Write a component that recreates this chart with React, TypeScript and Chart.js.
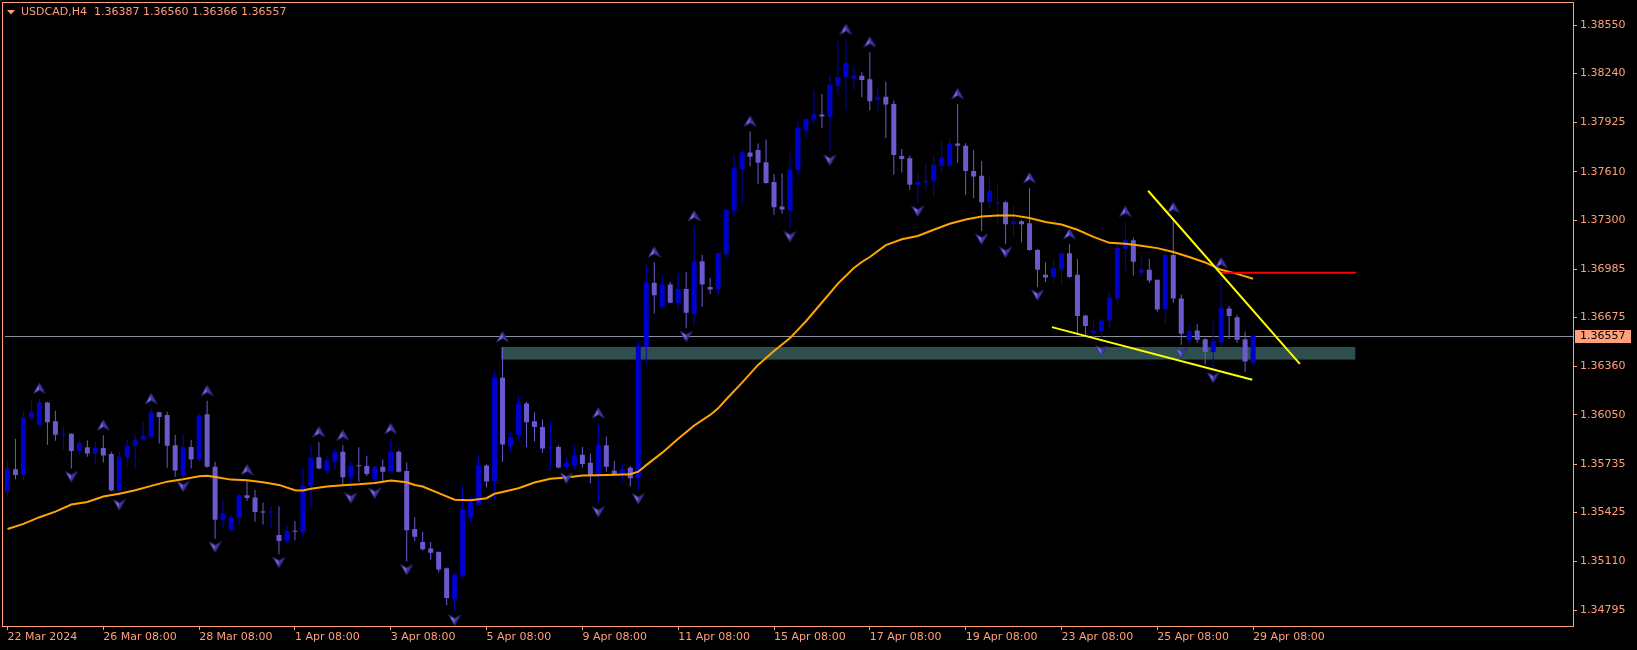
import React, { useEffect, useRef } from "react";
import { Chart, registerables } from "chart.js";

Chart.register(...registerables);

// ---------- data ----------
const SYMBOL = "USDCAD,H4";

const OPEN = [
  1.35559, 1.35701, 1.35665, 1.36029, 1.35986, 1.3613, 1.3601, 1.35923, 1.35929, 1.35819,
  1.35842, 1.35802, 1.35838, 1.358, 1.35565, 1.35777, 1.35853, 1.35891, 1.35908, 1.36067,
  1.3605, 1.35855, 1.35665, 1.35845, 1.35764, 1.36054, 1.35718, 1.35375, 1.35311, 1.3539,
  1.35534, 1.35521, 1.3543, 1.35424, 1.3528, 1.35242, 1.35305, 1.35299, 1.35597, 1.35779,
  1.35692, 1.35749, 1.35813, 1.3565, 1.35724, 1.35722, 1.35637, 1.35718, 1.35686, 1.35813,
  1.3569, 1.35318, 1.35235, 1.35193, 1.35172, 1.35066, 1.34867, 1.35015, 1.3539, 1.35474,
  1.35726, 1.35623, 1.36289, 1.35851, 1.35923, 1.36124, 1.3601, 1.35972, 1.35834, 1.35845,
  1.35718, 1.35728, 1.35794, 1.35743, 1.35661, 1.35855, 1.35692, 1.35673, 1.35711, 1.35644,
  1.36486, 1.36898, 1.36744, 1.36886, 1.36769, 1.36858, 1.36697, 1.37036, 1.36871, 1.3686,
  1.37082, 1.37362, 1.37628, 1.37734, 1.37749, 1.37671, 1.37544, 1.37387, 1.37362, 1.37622,
  1.37876, 1.37945, 1.37977, 1.37964, 1.38161, 1.38218, 1.38208, 1.38225, 1.38204, 1.3807,
  1.38091, 1.38045, 1.37711, 1.37696, 1.37527, 1.37541, 1.37547, 1.37649, 1.37649, 1.37791,
  1.37776, 1.37615, 1.37584, 1.37414, 1.37406, 1.37414, 1.37273, 1.37292, 1.37279, 1.37108,
  1.36949, 1.36934, 1.36983, 1.37087, 1.36949, 1.36687, 1.36574, 1.36589, 1.36655, 1.36797,
  1.37114, 1.37171, 1.36962, 1.36981, 1.36917, 1.36729, 1.37076, 1.36797, 1.36528, 1.36592,
  1.36536, 1.36454, 1.36515, 1.36733, 1.36676, 1.36536, 1.36387,
];
const HIGH = [
  1.35754, 1.35897, 1.36077, 1.36151, 1.36155, 1.36134, 1.36077, 1.35978, 1.35933, 1.35893,
  1.35887, 1.35881, 1.35919, 1.35813, 1.35813, 1.35893, 1.35919, 1.36008, 1.36088, 1.36071,
  1.36071, 1.35923, 1.35925, 1.35891, 1.36061, 1.36141, 1.35749, 1.3551, 1.35411, 1.35544,
  1.35633, 1.3557, 1.35489, 1.35464, 1.35464, 1.35341, 1.35369, 1.35711, 1.35859, 1.35876,
  1.35792, 1.35834, 1.35855, 1.35749, 1.35842, 1.35787, 1.3572, 1.35764, 1.35897, 1.35823,
  1.35745, 1.35394, 1.35299, 1.35235, 1.35172, 1.35072, 1.3503, 1.35597, 1.35527, 1.35792,
  1.35733, 1.36331, 1.36486, 1.35944, 1.36173, 1.36135, 1.36067, 1.3602, 1.3601, 1.35855,
  1.35775, 1.35855, 1.35845, 1.35802, 1.35997, 1.35912, 1.35754, 1.35735, 1.35722, 1.36522,
  1.37012, 1.3703, 1.36944, 1.36903, 1.36955, 1.36966, 1.37262, 1.37076, 1.3693, 1.37087,
  1.37368, 1.37715, 1.37753, 1.37869, 1.37791, 1.37817, 1.37596, 1.37601, 1.37728, 1.37933,
  1.3795, 1.38134, 1.38109, 1.38225, 1.38447, 1.38458, 1.38288, 1.3825, 1.38377, 1.38155,
  1.38187, 1.38066, 1.37755, 1.37713, 1.37601, 1.37671, 1.37717, 1.37812, 1.37823, 1.38045,
  1.37793, 1.37749, 1.37679, 1.37573, 1.37531, 1.37421, 1.37389, 1.373, 1.37506, 1.37114,
  1.3703, 1.37049, 1.37087, 1.37146, 1.37049, 1.36691, 1.36655, 1.3667, 1.36833, 1.37157,
  1.3729, 1.37188, 1.37071, 1.37051, 1.36917, 1.37131, 1.37315, 1.36822, 1.36623, 1.36632,
  1.36543, 1.36649, 1.36962, 1.36748, 1.36691, 1.36585, 1.3656,
];
const LOW = [
  1.35538, 1.35637, 1.35633, 1.36014, 1.35982, 1.35859, 1.35885, 1.35828, 1.35707, 1.35798,
  1.35781, 1.35732, 1.35745, 1.35559, 1.35527, 1.35718, 1.35707, 1.35887, 1.35904, 1.35866,
  1.35711, 1.35654, 1.35644, 1.35707, 1.35749, 1.35711, 1.35256, 1.35326, 1.35309, 1.35341,
  1.355, 1.35364, 1.35347, 1.35326, 1.35157, 1.35227, 1.35246, 1.35263, 1.35453, 1.35701,
  1.35669, 1.35701, 1.35601, 1.3557, 1.35622, 1.35658, 1.35601, 1.35622, 1.35682, 1.3568,
  1.3511, 1.35242, 1.35178, 1.35121, 1.35041, 1.34829, 1.34787, 1.35009, 1.35364, 1.35474,
  1.35584, 1.35506, 1.35749, 1.35813, 1.35887, 1.35845, 1.35881, 1.35807, 1.35701, 1.35707,
  1.35697, 1.35707, 1.35713, 1.35612, 1.35481, 1.35686, 1.35665, 1.35623, 1.35591, 1.35565,
  1.36384, 1.36701, 1.36733, 1.36765, 1.36733, 1.36606, 1.36634, 1.36744, 1.36824, 1.36818,
  1.37055, 1.37322, 1.37406, 1.37643, 1.37533, 1.37533, 1.37332, 1.37341, 1.37247, 1.37575,
  1.37827, 1.37918, 1.3789, 1.37738, 1.38112, 1.38009, 1.38136, 1.38087, 1.38003, 1.38003,
  1.37827, 1.3759, 1.37605, 1.37495, 1.3741, 1.3749, 1.37452, 1.37601, 1.37649, 1.37668,
  1.37463, 1.37442, 1.3723, 1.37374, 1.37268, 1.37146, 1.37188, 1.37157, 1.37103, 1.36871,
  1.36903, 1.36903, 1.36887, 1.3693, 1.36564, 1.36564, 1.36543, 1.36515, 1.366, 1.3676,
  1.36972, 1.36945, 1.36941, 1.36896, 1.36712, 1.36634, 1.36769, 1.365, 1.36507, 1.36511,
  1.36373, 1.36342, 1.3649, 1.36538, 1.36511, 1.36325, 1.36366,
];
const CLOSE = [
  1.35707, 1.35665, 1.36035, 1.36071, 1.3613, 1.36003, 1.35923, 1.35927, 1.35819, 1.3587,
  1.35802, 1.35838, 1.3579, 1.35565, 1.35781, 1.35851, 1.35893, 1.35914, 1.36067, 1.36037,
  1.35853, 1.35694, 1.35845, 1.35764, 1.36046, 1.35718, 1.35377, 1.35417, 1.35394, 1.35534,
  1.35517, 1.35428, 1.35424, 1.3543, 1.35242, 1.35305, 1.35301, 1.35601, 1.35775, 1.35707,
  1.35756, 1.35813, 1.3565, 1.35722, 1.3572, 1.35671, 1.35718, 1.35686, 1.35813, 1.35686,
  1.35311, 1.35269, 1.35189, 1.35166, 1.35058, 1.34876, 1.35026, 1.35447, 1.35489, 1.35726,
  1.35623, 1.36289, 1.3586, 1.35908, 1.36124, 1.36003, 1.35972, 1.35834, 1.35843, 1.35713,
  1.35743, 1.35788, 1.35735, 1.35661, 1.35855, 1.35718, 1.35671, 1.35703, 1.35644, 1.3649,
  1.36898, 1.36818, 1.36886, 1.36769, 1.36858, 1.36706, 1.37036, 1.36887, 1.36854, 1.37087,
  1.37368, 1.37634, 1.37734, 1.37706, 1.37668, 1.37537, 1.37382, 1.37368, 1.37622, 1.37893,
  1.3795, 1.37977, 1.37964, 1.38168, 1.38218, 1.38309, 1.38225, 1.38199, 1.38062, 1.38091,
  1.38041, 1.37717, 1.37692, 1.37527, 1.37544, 1.37552, 1.37654, 1.377, 1.37791, 1.37776,
  1.37615, 1.37579, 1.37414, 1.37488, 1.3741, 1.37273, 1.3729, 1.37273, 1.37108, 1.36981,
  1.36932, 1.36993, 1.37087, 1.36934, 1.36684, 1.36621, 1.36592, 1.36655, 1.36803, 1.3712,
  1.37171, 1.37033, 1.36981, 1.36913, 1.36727, 1.37076, 1.36797, 1.3657, 1.36589, 1.36532,
  1.36454, 1.36522, 1.36738, 1.36684, 1.36532, 1.36392, 1.36557,
];

// moving average readings (bar index -> value)
const MA_INDEX = [
  0, 2, 4, 6, 8, 10, 12, 14, 16, 18, 20, 22, 24, 25, 26, 28, 30, 32, 34, 36, 37, 38, 40, 42, 44,
  46, 48, 50, 51, 52, 54, 56, 58, 60, 61, 62, 64, 66, 68, 70, 72, 74, 76, 78, 79, 80, 82, 84,
  86, 88, 89, 90, 92, 94, 96, 98, 100, 102, 104, 106, 107, 108, 110, 112, 114, 116, 118, 120,
  122, 124, 126, 128, 130, 132, 134, 136, 138, 140, 142, 144, 146, 148, 150, 152, 154, 156,
];
const MA_VALUE = [
  1.35318, 1.35351, 1.35394, 1.3543, 1.35475, 1.35491, 1.35527, 1.35544, 1.35567, 1.35595,
  1.35622, 1.35637, 1.35656, 1.3566, 1.35652, 1.35635, 1.35631, 1.35618, 1.35601, 1.35567,
  1.35565, 1.35576, 1.35591, 1.35599, 1.35605, 1.35614, 1.35629, 1.35618, 1.35601, 1.35591,
  1.35548, 1.35506, 1.35502, 1.35516, 1.35544, 1.35555, 1.3558, 1.35616, 1.3564, 1.35648,
  1.35661, 1.35663, 1.35667, 1.35669, 1.35686, 1.35728, 1.35808, 1.35897, 1.35982, 1.3605,
  1.36092, 1.36149, 1.36257, 1.36371, 1.3646, 1.36543, 1.36651, 1.36771, 1.36892, 1.36993,
  1.37031, 1.37063, 1.37139, 1.37177, 1.37198, 1.37238, 1.37276, 1.37304, 1.37323, 1.3733,
  1.3733, 1.37313, 1.37287, 1.37271, 1.37238, 1.37192, 1.37154, 1.37148, 1.37135, 1.3712,
  1.37095, 1.37063, 1.37028, 1.36981, 1.36955, 1.36923,
];

const FRACTAL_UP = [4, 12, 18, 25, 30, 39, 42, 48, 62, 74, 81, 86, 93, 105, 108, 119, 128, 133, 140, 146, 152];
const FRACTAL_DOWN = [8, 14, 22, 26, 34, 43, 46, 50, 56, 70, 74, 79, 85, 98, 103, 114, 122, 125, 129, 137, 147, 151];

const X_TICK_INDEX = [0, 12, 24, 36, 48, 60, 72, 84, 96, 108, 120, 132, 144, 156];
const X_TICK_LABELS = [
  "22 Mar 2024", "26 Mar 08:00", "28 Mar 08:00", "1 Apr 08:00", "3 Apr 08:00", "5 Apr 08:00",
  "9 Apr 08:00", "11 Apr 08:00", "15 Apr 08:00", "17 Apr 08:00", "19 Apr 08:00", "23 Apr 08:00",
  "25 Apr 08:00", "29 Apr 08:00",
];
const Y_TICKS = [1.3855, 1.3824, 1.37925, 1.3761, 1.373, 1.36985, 1.36675, 1.3636, 1.3605, 1.35735, 1.35425, 1.3511, 1.34795];

// drawn objects (bar index / price)
const UPPER_TREND_X = [142.85, 161.85];
const UPPER_TREND_Y = [1.37488, 1.36378];
const LOWER_TREND_X = [130.8, 155.9];
const LOWER_TREND_Y = [1.36613, 1.36276];
const RESIST_X = [151.85, 168.9];
const RESIST_Y = [1.36962, 1.36962];
const ZONE_X = [61.85, 168.8];
const ZONE_Y = [1.36405, 1.36486];

const X_MIN = -0.3125;
const X_MAX = 196.0625;
const Y_MIN = 1.34696;
const Y_MAX = 1.3865;

// ---------- style ----------
const AXIS_COLOR = "#FFA07A";
const BULL_COLOR = "#0000CD";
const BEAR_COLOR = "#6A5ACD";
const MA_COLOR = "#FFA500";
const TREND_COLOR = "#FFFF00";
const RESIST_COLOR = "#FF0000";
const ZONE_COLOR = "#2F4F4F";
const PRICE_LINE_COLOR = "#8a909c";
const FONT = "DejaVu Sans";

function makeArrow(up: boolean): HTMLCanvasElement {
  const w = 13;
  const gap = up ? 10 : 8;
  const h = 2 * (gap + 7);
  const c = document.createElement("canvas");
  c.width = w;
  c.height = h;
  const g = c.getContext("2d")!;
  const cy = up ? 7 : h - 7;
  const s = up ? 1 : -1;
  const tip: [number, number] = [6.5, cy - 5.5 * s];
  const right: [number, number] = [12.5, cy + 5 * s];
  const notch: [number, number] = [6.5, cy + 1.5 * s];
  const left: [number, number] = [0.5, cy + 5 * s];
  g.beginPath();
  g.moveTo(...tip);
  g.lineTo(...notch);
  g.lineTo(...left);
  g.closePath();
  g.fillStyle = "#7a6cec";
  g.fill();
  g.beginPath();
  g.moveTo(...tip);
  g.lineTo(...right);
  g.lineTo(...notch);
  g.closePath();
  g.fillStyle = "#4338a8";
  g.fill();
  g.beginPath();
  g.moveTo(...tip);
  g.lineTo(...right);
  g.lineTo(...notch);
  g.lineTo(...left);
  g.closePath();
  g.strokeStyle = "#2a2370";
  g.lineWidth = 0.8;
  g.stroke();
  return c;
}

export default function App() {
  const ref = useRef<HTMLCanvasElement>(null);

  useEffect(() => {
    const canvas = ref.current;
    if (!canvas) return;
    const idx = OPEN.map((_, i) => i);
    const colors = idx.map((i) => (CLOSE[i] >= OPEN[i] ? BULL_COLOR : BEAR_COLOR));
    const upImg = makeArrow(true);
    const downImg = makeArrow(false);
    const last = idx.length - 1;

    const decor = {
      id: "decor",
      beforeDraw(chart: any) {
        const { ctx, width, height } = chart;
        ctx.save();
        ctx.fillStyle = "#000";
        ctx.fillRect(0, 0, width, height);
        ctx.restore();
      },
      beforeDatasetsDraw(chart: any) {
        const { ctx, chartArea, scales } = chart;
        const x = scales.x;
        const y = scales.y;
        ctx.save();
        ctx.beginPath();
        ctx.rect(chartArea.left, chartArea.top, chartArea.right - chartArea.left, chartArea.bottom - chartArea.top);
        ctx.clip();
        const x0 = x.getPixelForValue(ZONE_X[0]);
        const x1 = x.getPixelForValue(ZONE_X[1]);
        const y0 = y.getPixelForValue(ZONE_Y[1]);
        const y1 = y.getPixelForValue(ZONE_Y[0]);
        ctx.fillStyle = ZONE_COLOR;
        ctx.fillRect(x0, y0, x1 - x0, y1 - y0);
        const py = Math.round(y.getPixelForValue(CLOSE[last])) + 0.5;
        ctx.strokeStyle = PRICE_LINE_COLOR;
        ctx.lineWidth = 1;
        ctx.beginPath();
        ctx.moveTo(chartArea.left, py);
        ctx.lineTo(chartArea.right, py);
        ctx.stroke();
        ctx.restore();
      },
      afterDraw(chart: any) {
        const { ctx, chartArea, scales } = chart;
        ctx.save();
        ctx.strokeStyle = AXIS_COLOR;
        ctx.lineWidth = 1;
        ctx.strokeRect(2.5, 2.5, chartArea.right - 2, chartArea.bottom - 2);
        ctx.fillStyle = AXIS_COLOR;
        ctx.beginPath();
        ctx.moveTo(7, 10);
        ctx.lineTo(15, 10);
        ctx.lineTo(11, 14.5);
        ctx.closePath();
        ctx.fill();
        ctx.font = `11px "${FONT}"`;
        ctx.textBaseline = "middle";
        ctx.textAlign = "left";
        const header = `${SYMBOL}  ${OPEN[last].toFixed(5)} ${HIGH[last].toFixed(5)} ${LOW[last].toFixed(5)} ${CLOSE[last].toFixed(5)}`;
        ctx.fillText(header, 21, 12.5);
        const py = Math.round(scales.y.getPixelForValue(CLOSE[last]));
        ctx.fillStyle = AXIS_COLOR;
        ctx.fillRect(chartArea.right + 2, py - 6, 56, 13);
        ctx.fillStyle = "#000";
        ctx.fillText(CLOSE[last].toFixed(5), chartArea.right + 7, py + 0.5);
        ctx.restore();
      },
    };

    const chart = new Chart(canvas, {
      type: "bar",
      data: {
        datasets: [
          {
            type: "bar",
            label: "wick",
            data: idx.map((i) => ({ x: i, y: [LOW[i], HIGH[i]] })) as any,
            backgroundColor: colors,
            barThickness: 1,
            maxBarThickness: 1,
            grouped: false,
            borderWidth: 0,
            inflateAmount: 0,
            order: 10,
          } as any,
          {
            type: "bar",
            label: "body",
            data: idx.map((i) => ({ x: i, y: [OPEN[i], CLOSE[i]] })) as any,
            backgroundColor: colors,
            barThickness: 5,
            maxBarThickness: 5,
            minBarLength: 1,
            grouped: false,
            borderWidth: 0,
            inflateAmount: 0,
            order: 9,
          } as any,
          {
            type: "line",
            label: "MA",
            data: MA_INDEX.map((x, k) => ({ x, y: MA_VALUE[k] })),
            borderColor: MA_COLOR,
            borderWidth: 2,
            pointRadius: 0,
            tension: 0,
            fill: false,
            order: 5,
          } as any,
          {
            type: "line",
            label: "upper trend",
            data: UPPER_TREND_X.map((x, k) => ({ x, y: UPPER_TREND_Y[k] })),
            borderColor: TREND_COLOR,
            borderWidth: 2,
            pointRadius: 0,
            fill: false,
            order: 3,
          } as any,
          {
            type: "line",
            label: "lower trend",
            data: LOWER_TREND_X.map((x, k) => ({ x, y: LOWER_TREND_Y[k] })),
            borderColor: TREND_COLOR,
            borderWidth: 2,
            pointRadius: 0,
            fill: false,
            order: 3,
          } as any,
          {
            type: "line",
            label: "resistance",
            data: RESIST_X.map((x, k) => ({ x, y: RESIST_Y[k] })),
            borderColor: RESIST_COLOR,
            borderWidth: 2,
            pointRadius: 0,
            fill: false,
            order: 3,
          } as any,
          {
            type: "line",
            label: "fractal up",
            data: FRACTAL_UP.map((i) => ({ x: i, y: HIGH[i] })),
            showLine: false,
            pointStyle: upImg,
            pointRadius: 3,
            order: 4,
          } as any,
          {
            type: "line",
            label: "fractal down",
            data: FRACTAL_DOWN.map((i) => ({ x: i, y: LOW[i] })),
            showLine: false,
            pointStyle: downImg,
            pointRadius: 3,
            order: 4,
          } as any,
        ],
      },
      options: {
        animation: false,
        responsive: false,
        devicePixelRatio: 1,
        events: [],
        layout: { padding: { left: 2, top: 3, right: 0, bottom: 0 } },
        plugins: { legend: { display: false }, tooltip: { enabled: false } },
        scales: {
          x: {
            type: "linear",
            min: X_MIN,
            max: X_MAX,
            offset: false,
            bounds: "data",
            stacked: false,
            grid: {
              offset: false,
              drawOnChartArea: false,
              drawTicks: true,
              tickLength: 4,
              color: AXIS_COLOR,
              tickColor: AXIS_COLOR,
            },
            border: { display: false },
            ticks: {
              autoSkip: false,
              maxRotation: 0,
              minRotation: 0,
              align: "start",
              padding: 1,
              color: AXIS_COLOR,
              font: { family: FONT, size: 11 },
              callback: (v: any) => {
                const k = X_TICK_INDEX.indexOf(Number(v));
                return k >= 0 ? X_TICK_LABELS[k] : "";
              },
            },
            afterBuildTicks: (scale: any) => {
              scale.ticks = X_TICK_INDEX.map((v) => ({ value: v }));
            },
            afterFit: (scale: any) => {
              scale.height = 24;
            },
          },
          y: {
            type: "linear",
            position: "right",
            min: Y_MIN,
            max: Y_MAX,
            bounds: "data",
            beginAtZero: false,
            stacked: false,
            grid: {
              drawOnChartArea: false,
              drawTicks: true,
              tickLength: 4,
              color: AXIS_COLOR,
              tickColor: AXIS_COLOR,
            },
            border: { display: false },
            ticks: {
              autoSkip: false,
              padding: 3,
              color: AXIS_COLOR,
              font: { family: FONT, size: 11 },
              callback: (v: any) => Number(v).toFixed(5),
            },
            afterBuildTicks: (scale: any) => {
              scale.ticks = Y_TICKS.map((v) => ({ value: v }));
            },
            afterFit: (scale: any) => {
              scale.width = 64;
            },
          },
        },
      } as any,
      plugins: [decor],
    });

    return () => chart.destroy();
  }, []);

  return (
    <div
      style={{
        position: "fixed",
        left: 0,
        top: 0,
        width: 1637,
        height: 650,
        background: "#000",
        overflow: "hidden",
      }}
    >
      <canvas ref={ref} width={1637} height={650} style={{ display: "block" }} />
    </div>
  );
}
